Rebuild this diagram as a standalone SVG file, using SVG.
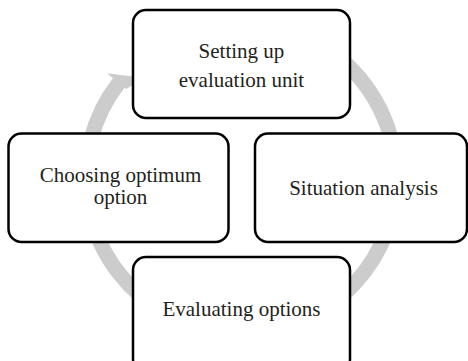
<svg xmlns="http://www.w3.org/2000/svg" width="468" height="361" viewBox="0 0 468 361">
<style>
.box{fill:#fff;stroke:#000;stroke-width:2.5}
.ring{fill:none;stroke:#cccccc;stroke-width:15}
.head{fill:#cccccc;stroke:none}
text{font-family:"Liberation Serif","Times New Roman",serif;font-size:21px;fill:#231f20;text-anchor:middle}
</style>
<rect width="468" height="361" fill="#fff"/>
<g id="connectors">
<path class="ring" d="M268.9,25.4 A155,155 0 1 1 118.9,82.6"/>
<polygon class="head" points="107,73.3 145,78 126,89"/>
</g>
<g id="node-setup">
<rect class="box" x="133" y="10" width="217" height="108" rx="13"/>
<text x="241.5" y="57.5">Setting up</text>
<text x="241.5" y="87">evaluation unit</text>
</g>
<g id="node-choose">
<rect class="box" x="8.5" y="133.5" width="220" height="108.5" rx="13"/>
<text x="120.5" y="181.5">Choosing optimum</text>
<text x="120.5" y="204">option</text>
</g>
<g id="node-situation">
<rect class="box" x="255" y="133.5" width="212" height="108.5" rx="13"/>
<text x="363.5" y="195">Situation analysis</text>
</g>
<g id="node-evaluate">
<rect class="box" x="133" y="257" width="217" height="115" rx="13"/>
<text x="241.5" y="316">Evaluating options</text>
</g>
</svg>
